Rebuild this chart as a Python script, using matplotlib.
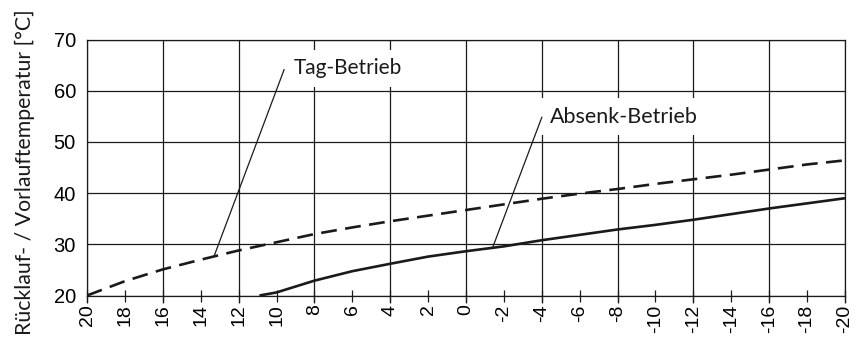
import numpy as np
import matplotlib
matplotlib.use("Agg")
import matplotlib.pyplot as plt

# Outdoor temperature axis (°C), shown from warm to cold
outdoor_ticks = list(range(20, -21, -2))
outdoor_grid = list(range(20, -21, -4))
flow_ticks = [20, 30, 40, 50, 60, 70]

# Day operation (dashed curve)
tag_x = [20, 18, 16, 14, 12, 10, 8, 6, 4, 2, 0, -2, -4, -6, -8, -10, -12, -14, -16, -18, -20]
tag_y = [20.0, 22.8, 25.1, 27.0, 28.8, 30.4, 32.0, 33.3, 34.5, 35.6, 36.7, 37.8, 38.9, 39.9,
         40.8, 41.8, 42.7, 43.6, 44.6, 45.6, 46.4]

# Setback operation (solid curve)
absenk_x = [10.9, 10, 8, 6, 4, 2, 0, -2, -4, -6, -8, -10, -12, -14, -16, -18, -20]
absenk_y = [20.0, 20.6, 22.9, 24.75, 26.2, 27.6, 28.65, 29.6, 30.8, 31.85, 32.9, 33.8, 34.8,
            35.9, 37.0, 38.0, 39.0]

# Label texts, label positions, leader start points and where leaders touch the curves
tag_label = "Tag-Betrieb"
tag_label_pos = (9.08, 64.4)
tag_leader_start = (9.6, 64.1)
tag_hit_x = 13.3
absenk_label = "Absenk-Betrieb"
absenk_label_pos = (-4.43, 54.9)
absenk_leader_start = (-4.0, 54.8)
absenk_hit_x = -1.4

ylabel = "Rücklauf- / Vorlauftemperatur [°C]"

fig = plt.figure(figsize=(8.64, 3.41), dpi=100)
ax = fig.add_axes([0.1007, 0.1334, 0.8773, 0.7507])

ink = "#1a1a1a"
ax.set_xlim(20, -20)
ax.set_ylim(20, 70)

ax.xaxis.remove_overlapping_locs = False
ax.set_xticks(outdoor_ticks)
ax.set_xticklabels([str(v) for v in outdoor_ticks], rotation=90,
                   fontfamily="Liberation Sans", fontsize=14)
ax.set_xticks(outdoor_grid, minor=True)
ax.set_yticks(flow_ticks)
ax.set_yticklabels([str(v) for v in flow_ticks], fontfamily="Liberation Sans", fontsize=14.5)

ax.tick_params(axis="x", which="major", direction="inout", length=9, width=0.9,
               color=ink, pad=2)
ax.tick_params(axis="x", which="minor", direction="out", length=5, width=0.9, color=ink)
ax.tick_params(axis="y", length=0, pad=8)

ax.grid(axis="x", which="minor", color=ink, linewidth=0.9)
ax.grid(axis="x", which="major", visible=False)
ax.grid(axis="y", which="major", color=ink, linewidth=0.9)
ax.set_axisbelow(True)
for s in ax.spines.values():
    s.set_color(ink)
    s.set_linewidth(0.9)

line_tag, = ax.plot(tag_x, tag_y, color=ink, linewidth=1.9, zorder=3)
line_tag.set_dashes((6.0, 3.2))
ax.plot(absenk_x, absenk_y, color=ink, linewidth=1.9, zorder=3, solid_capstyle="butt")

# Labels sit on white boxes; leader lines run from each label to its curve
tag_hit = (tag_hit_x, float(np.interp(-tag_hit_x, -np.array(tag_x), tag_y)))
absenk_hit = (absenk_hit_x, float(np.interp(-absenk_hit_x, -np.array(absenk_x), absenk_y)))

label_box = dict(boxstyle="square,pad=0.4", facecolor="white", edgecolor="none")
for text, pos, start, hit, size in [
        (tag_label, tag_label_pos, tag_leader_start, tag_hit, 15.0),
        (absenk_label, absenk_label_pos, absenk_leader_start, absenk_hit, 15.5)]:
    ax.text(pos[0], pos[1], text, ha="left", va="center", fontfamily="Lato",
            fontsize=size, color=ink, bbox=label_box, zorder=4)
    ax.plot([start[0], hit[0]], [start[1], hit[1]], color=ink, linewidth=0.9, zorder=5)

ax.set_ylabel(ylabel, fontfamily="Lato", fontsize=15.3, color=ink)
ax.yaxis.set_label_coords(-0.0686, 0.482)

fig.savefig("out.png", dpi=100)
